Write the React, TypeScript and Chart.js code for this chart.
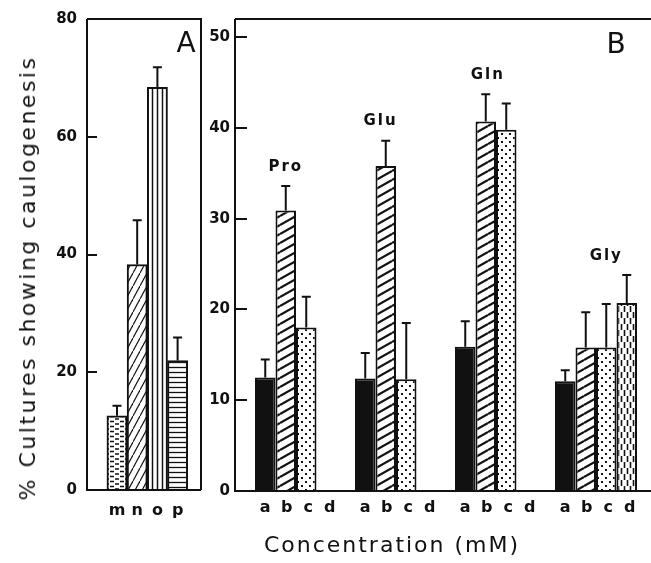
import React, { useEffect, useRef } from "react";
import { Chart, registerables } from "chart.js";

Chart.register(...registerables);

// ---------- Panel A data ----------
const panelALabels = ["m", "n", "o", "p"];
const panelAValues = [12.6, 38.3, 68.4, 22.0];
const panelAErrors = [1.7, 7.5, 3.4, 3.9];
const panelATicks = [0, 20, 40, 60, 80];

// ---------- Panel B data ----------
const aminoAcids = ["Pro", "Glu", "Gln", "Gly"];
const concLabels = ["a", "b", "c", "d"];
const concA = [12.5, 12.4, 15.9, 12.1];
const concB = [30.9, 35.8, 40.7, 15.8];
const concC = [18.0, 12.3, 39.8, 15.8];
const concD: (number | null)[] = [null, null, null, 20.7];
const errA = [2.0, 2.8, 2.8, 1.2];
const errB = [2.7, 2.8, 3.0, 3.9];
const errC = [3.4, 6.2, 2.9, 4.8];
const errD: (number | null)[] = [null, null, null, 3.1];
const labelSlot = [1, 0.75, 1.1, 2];
const panelBTicks = [0, 10, 20, 30, 40, 50];

const INK = "#111";
const FONT = "'DejaVu Sans', sans-serif";

type Draw = (c: CanvasRenderingContext2D, w: number, h: number) => void;

function makePattern(target: CanvasRenderingContext2D, w: number, h: number, draw: Draw) {
  const tile = document.createElement("canvas");
  tile.width = w;
  tile.height = h;
  const c = tile.getContext("2d")!;
  c.fillStyle = "#fff";
  c.fillRect(0, 0, w, h);
  c.strokeStyle = INK;
  c.fillStyle = INK;
  draw(c, w, h);
  return target.createPattern(tile, "repeat")!;
}

const diag = (lw: number): Draw => (c, w, h) => {
  c.lineWidth = lw;
  for (const off of [-h, 0, h]) {
    c.beginPath();
    c.moveTo(0, h + off);
    c.lineTo(w, off);
    c.stroke();
  }
};

function errorBarPlugin(errorsPerDataset: (number | null)[][], capHalf: number) {
  return {
    id: "errbars",
    afterDatasetsDraw(chart: any) {
      const ctx = chart.ctx;
      const y = chart.scales.y;
      ctx.save();
      ctx.strokeStyle = INK;
      ctx.lineWidth = 2;
      chart.data.datasets.forEach((ds: any, di: number) => {
        const meta = chart.getDatasetMeta(di);
        meta.data.forEach((el: any, i: number) => {
          const v = ds.data[i] && typeof ds.data[i] === "object" ? ds.data[i].y : ds.data[i];
          const e = errorsPerDataset[di][i];
          if (v == null || e == null) return;
          const top = y.getPixelForValue(v + e);
          const base = y.getPixelForValue(v);
          ctx.beginPath();
          ctx.moveTo(el.x, base);
          ctx.lineTo(el.x, top);
          ctx.moveTo(el.x - capHalf, top);
          ctx.lineTo(el.x + capHalf, top);
          ctx.stroke();
        });
      });
      ctx.restore();
    },
  };
}

function framePlugin(sides: { right: boolean }, tickLen: number, tickValues: number[]) {
  return {
    id: "frame",
    afterDraw(chart: any) {
      const { ctx, chartArea } = chart;
      const { left, right, top, bottom } = chartArea;
      const y = chart.scales.y;
      ctx.save();
      ctx.strokeStyle = INK;
      ctx.lineWidth = 2;
      ctx.beginPath();
      ctx.moveTo(left, top);
      ctx.lineTo(right, top);
      if (sides.right) ctx.lineTo(right, bottom);
      ctx.moveTo(left, top);
      ctx.lineTo(left, bottom);
      ctx.lineTo(right, bottom);
      ctx.stroke();
      ctx.beginPath();
      tickValues.forEach((t) => {
        const py = Math.round(y.getPixelForValue(t));
        ctx.moveTo(left, py);
        ctx.lineTo(left + tickLen, py);
      });
      ctx.stroke();
      ctx.restore();
    },
  };
}

function PanelA() {
  const ref = useRef<HTMLCanvasElement>(null);
  useEffect(() => {
    const canvas = ref.current!;
    const tctx = canvas.getContext("2d")!;
    const pats = [
      makePattern(tctx, 10, 5, (c) => {
        c.lineWidth = 1.5;
        c.beginPath();
        c.moveTo(0, 1.5);
        c.lineTo(4, 1.5);
        c.moveTo(5, 4);
        c.lineTo(9, 4);
        c.stroke();
      }),
      makePattern(tctx, 7, 13, diag(1.2)),
      makePattern(tctx, 5, 5, (c) => {
        c.lineWidth = 1.5;
        c.beginPath();
        c.moveTo(2.5, 0);
        c.lineTo(2.5, 5);
        c.stroke();
      }),
      makePattern(tctx, 5, 5, (c) => {
        c.lineWidth = 1.3;
        c.beginPath();
        c.moveTo(0, 2.5);
        c.lineTo(5, 2.5);
        c.stroke();
      }),
    ];
    const chart = new Chart(canvas, {
      type: "bar",
      data: {
        datasets: [
          {
            data: panelAValues.map((v, i) => ({ x: i, y: v })),
            backgroundColor: pats,
            borderColor: INK,
            borderWidth: 2,
            barPercentage: 1,
            categoryPercentage: 1,
          },
        ],
      },
      options: {
        responsive: false,
        animation: false,
        layout: { padding: { top: 19, right: 9, bottom: 73, left: 0 } },
        plugins: { legend: { display: false }, tooltip: { enabled: false } },
        scales: {
          x: {
            type: "linear",
            min: -1.485,
            max: 4.158,
            offset: false,
            display: false,
            ticks: { stepSize: 1, includeBounds: false },
          },
          y: {
            min: 0,
            max: 80,
            afterFit: (s: any) => {
              s.width = 87;
            },
            ticks: {
              stepSize: 20,
              color: INK,
              padding: 10,
              font: { family: FONT, size: 15, weight: "bold" },
            },
            grid: { display: false, drawTicks: false },
            border: { display: false },
          },
        },
      },
      plugins: [
        errorBarPlugin([panelAErrors], 4.5),
        framePlugin({ right: true }, 10, panelATicks),
        {
          id: "labelsA",
          afterDraw(ch: any) {
            const ctx = ch.ctx;
            const meta = ch.getDatasetMeta(0);
            ctx.save();
            ctx.fillStyle = INK;
            ctx.textAlign = "center";
            ctx.textBaseline = "middle";
            ctx.font = `bold 16px ${FONT}`;
            meta.data.forEach((el: any, i: number) => {
              ctx.fillText(panelALabels[i], el.x, 511);
            });
            ctx.font = `28px ${FONT}`;
            ctx.fillText("A", 186, 45);
            ctx.restore();
          },
        },
      ],
    } as any);
    return () => chart.destroy();
  }, []);
  return (
    <canvas
      ref={ref}
      width={210}
      height={563}
      style={{ position: "absolute", left: 0, top: 0, width: 210, height: 563 }}
    />
  );
}

function PanelB() {
  const ref = useRef<HTMLCanvasElement>(null);
  useEffect(() => {
    const canvas = ref.current!;
    const tctx = canvas.getContext("2d")!;
    const hatch = makePattern(tctx, 16, 9, diag(2.2));
    const dots = makePattern(tctx, 8, 8, (c) => {
      c.fillRect(1, 1, 2, 2);
      c.fillRect(5, 5, 2, 2);
    });
    const dashes = makePattern(tctx, 6, 12, (c) => {
      c.lineWidth = 1.6;
      c.beginPath();
      c.moveTo(1.5, 0);
      c.lineTo(1.5, 6);
      c.moveTo(4.5, 6);
      c.lineTo(4.5, 12);
      c.stroke();
    });
    const seriesList = [concA, concB, concC, concD];
    const fills = [INK, hatch, dots, dashes];
    const chart = new Chart(canvas, {
      type: "bar",
      data: {
        datasets: seriesList.map((s, k) => ({
          label: concLabels[k],
          data: s.map((v, i) => ({ x: i, y: v })),
          backgroundColor: fills[k],
          borderColor: INK,
          borderWidth: 2,
          barPercentage: 1,
          categoryPercentage: 0.82,
        })),
      },
      options: {
        responsive: false,
        animation: false,
        layout: { padding: { top: 19, right: 0, bottom: 72, left: 0 } },
        plugins: { legend: { display: false }, tooltip: { enabled: false } },
        scales: {
          x: {
            type: "linear",
            min: -0.61,
            max: 3.55,
            offset: false,
            display: false,
            ticks: { stepSize: 1, includeBounds: false },
          },
          y: {
            min: 0,
            max: 52,
            afterFit: (s: any) => {
              s.width = 35;
            },
            ticks: {
              stepSize: 10,
              includeBounds: false,
              color: INK,
              padding: 5,
              font: { family: FONT, size: 15, weight: "bold" },
            },
            grid: { display: false, drawTicks: false },
            border: { display: false },
          },
        },
      },
      plugins: [
        errorBarPlugin([errA, errB, errC, errD], 4.5),
        framePlugin({ right: false }, 12, panelBTicks),
        {
          id: "labelsB",
          afterDraw(ch: any) {
            const ctx = ch.ctx;
            const y = ch.scales.y;
            const m0 = ch.getDatasetMeta(0);
            ctx.save();
            ctx.fillStyle = INK;
            ctx.textAlign = "center";
            ctx.textBaseline = "middle";
            aminoAcids.forEach((name, i) => {
              const a = m0.data[i];
              const w = a.width;
              ctx.font = `bold 16px ${FONT}`;
              concLabels.forEach((l, k) => {
                ctx.fillText(l, a.x + k * (w + 1), 508);
              });
              const tops = [concA, concB, concC, concD].map((s, k) => {
                const v = s[i];
                const e = [errA, errB, errC, errD][k][i];
                return v == null ? 0 : v + (e || 0);
              });
              const maxTop = Math.max(...tops);
              ctx.font = `bold 15px ${FONT}`;
              (ctx as any).letterSpacing = "2px";
              ctx.fillText(name, a.x + labelSlot[i] * w, y.getPixelForValue(maxTop + 2.1));
              (ctx as any).letterSpacing = "0px";
            });
            ctx.font = `28px ${FONT}`;
            ctx.fillText("B", 416, 46);
            ctx.restore();
          },
        },
      ],
    } as any);
    return () => chart.destroy();
  }, []);
  return (
    <canvas
      ref={ref}
      width={451}
      height={563}
      style={{ position: "absolute", left: 200, top: 0, width: 451, height: 563 }}
    />
  );
}

export default function App() {
  return (
    <div
      style={{
        position: "absolute",
        left: 0,
        top: 0,
        width: 651,
        height: 563,
        background: "#fff",
        overflow: "hidden",
        fontFamily: FONT,
        color: INK,
      }}
    >
      <PanelA />
      <PanelB />
      <div
        style={{
          position: "absolute",
          left: 28,
          top: 278,
          transform: "translate(-50%, -50%) rotate(-90deg)",
          whiteSpace: "nowrap",
          fontSize: 22,
          letterSpacing: "2.5px",
          lineHeight: 1,
        }}
      >
        % Cultures showing caulogenesis
      </div>
      <div
        style={{
          position: "absolute",
          left: 392,
          top: 545,
          transform: "translate(-50%, -50%)",
          whiteSpace: "nowrap",
          fontSize: 22,
          letterSpacing: "2px",
          lineHeight: 1,
        }}
      >
        Concentration (mM)
      </div>
    </div>
  );
}
